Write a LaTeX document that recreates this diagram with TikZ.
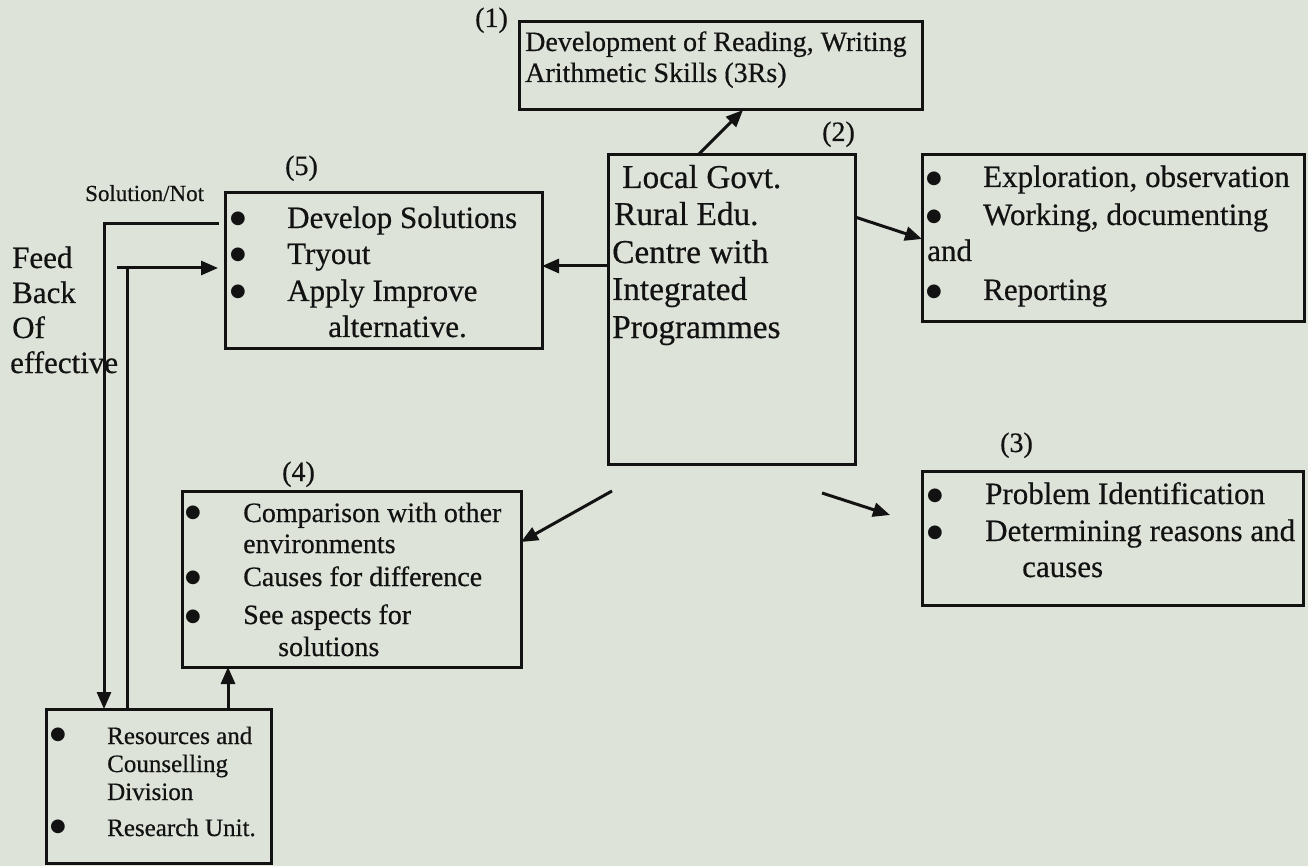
\documentclass[tikz,border=0pt]{standalone}
\usepackage{fontspec}
\setmainfont{Liberation Serif}[FakeBold=0.5]
\newfontfamily\symf{DejaVu Sans}
\usetikzlibrary{arrows.meta}
\definecolor{paper}{RGB}{221,227,216}
\definecolor{ink}{RGB}{18,18,18}
\begin{document}
\begin{tikzpicture}[x=1pt,y=-1pt,
  >={Triangle[length=17pt,width=14pt]},
  box/.style={draw=ink, line width=3pt, inner sep=0pt, outer sep=0pt, anchor=north west},
  conn/.style={draw=ink, line width=3pt},
  txt/.style={anchor=base west, inner sep=0pt, text=ink, font=\fontsize{31}{37}\selectfont},
  txtm/.style={anchor=base west, inner sep=0pt, text=ink, font=\fontsize{28}{32}\selectfont},
  txts/.style={anchor=base west, inner sep=0pt, text=ink, font=\fontsize{25}{28}\selectfont},
  txtc/.style={anchor=base west, inner sep=0pt, text=ink, font=\fontsize{33.3}{37}\selectfont},
  bul/.style={anchor=center, inner sep=0pt, text=ink, font=\symf\fontsize{18}{20}\selectfont},
  lab/.style={anchor=base west, inner sep=0pt, text=ink, font=\fontsize{28}{32}\selectfont}]
\fill[paper] (0,0) rectangle (1308,866);
\useasboundingbox (0,0) rectangle (1308,866);

% boxes
\node[box, minimum width=403pt, minimum height=88pt]  (b1) at (519,22)  {};
\node[box, minimum width=247pt, minimum height=309pt] (c)  at (608,155) {};
\node[box, minimum width=382pt, minimum height=167pt] (b2) at (922,155) {};
\node[box, minimum width=381pt, minimum height=134pt] (b3) at (922,471) {};
\node[box, minimum width=339pt, minimum height=176pt] (b4) at (182,491) {};
\node[box, minimum width=317pt, minimum height=155pt] (b5) at (225,193) {};
\node[box, minimum width=225pt, minimum height=154pt] (r)  at (46,709)  {};

% labels
\node[lab] (l1) at (475,27)   {(1)};
\node[lab] (l2) at (822,141)  {(2)};
\node[lab] (l3) at (1000,452) {(3)};
\node[lab] (l4) at (282,481)  {(4)};
\node[lab] (l5) at (285,175)  {(5)};

% box 1
\node[txtm] (t1a) at (525,51) {Development of Reading, Writing};
\node[txtm] (t1b) at (525,82) {Arithmetic Skills (3Rs)};

% centre
\node[txtc] (tca) at (622,188) {Local Govt.};
\node[txtc] (tcb) at (614,225) {Rural Edu.};
\node[txtc] (tcc) at (612,263) {Centre with};
\node[txtc] (tcd) at (612,300) {Integrated};
\node[txtc] (tce) at (612,338) {Programmes};

% box 2
\node[bul] (u2a) at (934,179) {●};
\node[bul] (u2b) at (934,217) {●};
\node[bul] (u2c) at (934,292) {●};
\node[txt] (t2a) at (983,187) {Exploration, observation};
\node[txt] (t2b) at (983,225) {Working, documenting};
\node[txt] (t2c) at (927,261) {and};
\node[txt] (t2d) at (983,300) {Reporting};

% box 3
\node[bul] (u3a) at (935,496) {●};
\node[bul] (u3b) at (935,533) {●};
\node[txt] (t3a) at (985,504) {Problem Identification};
\node[txt] (t3b) at (985,541) {Determining reasons and};
\node[txt] (t3c) at (1022,577) {causes};

% box 4
\node[bul] (u4a) at (193,513) {●};
\node[bul] (u4b) at (193,578) {●};
\node[bul] (u4c) at (193,617) {●};
\node[txtm] (t4a) at (243,522) {Comparison with other};
\node[txtm] (t4b) at (243,553) {environments};
\node[txtm] (t4c) at (243,586) {Causes for difference};
\node[txtm] (t4d) at (243,624) {See aspects for};
\node[txtm] (t4e) at (278,656) {solutions};

% box 5
\node[bul] (u5a) at (238,219) {●};
\node[bul] (u5b) at (238,255) {●};
\node[bul] (u5c) at (238,292) {●};
\node[txt] (t5a) at (287,228) {Develop Solutions};
\node[txt] (t5b) at (287,264) {Tryout};
\node[txt] (t5c) at (287,301) {Apply Improve};
\node[txt] (t5d) at (328,337) {alternative.};

% resources
\node[bul] (ura) at (58,735) {●};
\node[bul] (urb) at (58,827) {●};
\node[txts] (tra) at (107,744) {Resources and};
\node[txts] (trb) at (107,772) {Counselling};
\node[txts] (trc) at (107,800) {Division};
\node[txts] (trd) at (107,836) {Research Unit.};

% feedback text
\node[txts, font=\fontsize{23}{26}\selectfont] (sol) at (85,201) {Solution/Not};
\node[txt] (fa) at (12,268) {Feed};
\node[txt] (fb) at (12,303) {Back};
\node[txt] (fc) at (12,338) {Of};
\node[txt] (fd) at (10,373) {effective};

% connectors
\draw[conn,->] ([xshift=90pt]c.north west) -- ([xshift=224pt]b1.south west);
\draw[conn,->] ([yshift=-62pt]c.north east) -- ([yshift=-84pt]b2.north west);
\draw[conn,->] ([yshift=-111pt]c.north west) -- ([yshift=-73pt]b5.north east);
\draw[conn,->] ([xshift=4pt,yshift=-27pt]c.south west) -- ([yshift=-51pt]b4.north east);
\coordinate (p3s) at (822,493);
\coordinate (p3e) at (890,515);
\draw[conn,->] (p3s) -- (p3e);
\draw[conn,->] ([xshift=182pt]r.north west) -- ([xshift=46pt]b4.south west);
\draw[conn,->] ([xshift=-6pt,yshift=-31pt]b5.north west) -| ([xshift=58pt]r.north west);
\coordinate (fbk) at (117,268);
\draw[conn] ([xshift=81pt]r.north west) -- ([xshift=81pt]r.north west |- fbk);
\draw[conn,->,shorten >=7pt] (fbk) -- (fbk -| b5.west);
\end{tikzpicture}
\end{document}
